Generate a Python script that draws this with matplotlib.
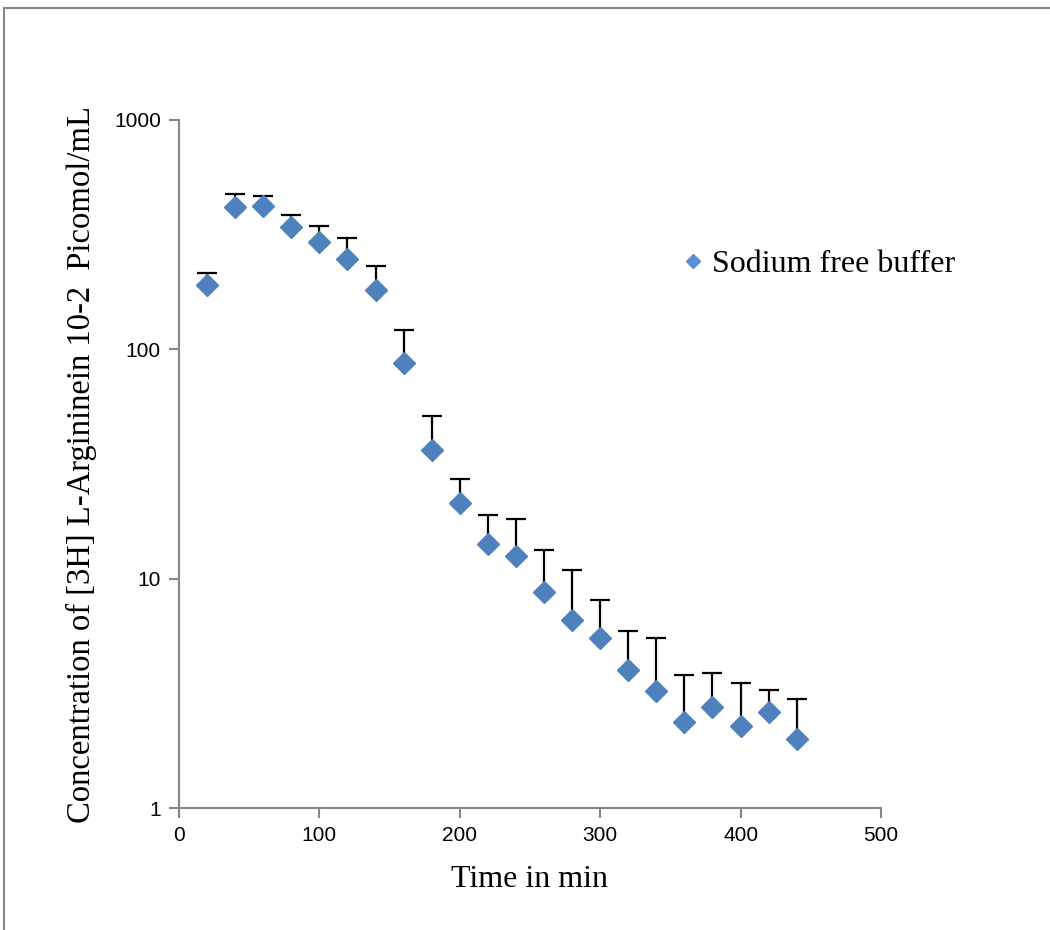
import matplotlib.pyplot as plt
from matplotlib.lines import Line2D

# time points (min) and measured concentration, with upper error
time_min = [20, 40, 60, 80, 100, 120, 140, 160, 180, 200, 220,
            240, 260, 280, 300, 320, 340, 360, 380, 400, 420, 440]
conc = [191, 418, 422, 341, 294, 248, 181, 87.2, 36.4, 21.4, 14.2,
        12.6, 8.75, 6.6, 5.51, 4.0, 3.24, 2.37, 2.76, 2.28, 2.62, 2.0]
conc_upper = [215, 476, 466, 385, 345, 306, 231, 121, 51.2, 27.2, 18.9,
              18.2, 13.3, 10.9, 8.07, 5.91, 5.51, 3.80, 3.88, 3.51, 3.27, 2.99]
err_up = [u - c for u, c in zip(conc_upper, conc)]
err_low = [0] * len(conc)

x_ticks = [0, 100, 200, 300, 400, 500]
y_ticks = [1, 10, 100, 1000]

serif = 'Liberation Serif'
grey = '#868686'
blue = '#4F81BD'

fig = plt.figure(figsize=(10.5, 9.3), dpi=100)
ax = fig.add_axes([0.1705, 0.131, 0.6685, 0.740])

ax.errorbar(time_min, conc, yerr=[err_low, err_up], fmt='none',
            ecolor='black', elinewidth=1.6, capsize=7, capthick=1.6, zorder=2)
ax.plot(time_min, conc, linestyle='none', marker='D', markersize=11,
        color=blue, label='Sodium free buffer', zorder=3)

ax.set_yscale('log')
ax.set_xlim(0, 500)
ax.set_ylim(1, 1000)
ax.set_xticks(x_ticks)
ax.set_xticklabels([str(t) for t in x_ticks])
ax.set_yticks(y_ticks)
ax.set_yticklabels([str(t) for t in y_ticks])
ax.minorticks_off()

for side in ['top', 'right']:
    ax.spines[side].set_visible(False)
for side in ['left', 'bottom']:
    ax.spines[side].set_color(grey)
    ax.spines[side].set_linewidth(1.5)
ax.tick_params(axis='both', direction='out', length=7, width=1.5, color=grey,
               labelsize=15, pad=6)
for lab in ax.get_xticklabels() + ax.get_yticklabels():
    lab.set_fontfamily('Liberation Sans')

ax.set_xlabel('Time in min', fontsize=23, family=serif, labelpad=14)
ax.set_ylabel('Concentration of [3H] L-Argininein 10-2  Picomol/mL',
              fontsize=23.5, family=serif, labelpad=12)

leg = ax.legend(loc='center left', bbox_to_anchor=(0.664, 0.79), frameon=False,
                prop={'family': serif, 'size': 23}, markerscale=0.65,
                handletextpad=0.0, handlelength=1.2)
leg.legend_handles[0].set_color('#5B8ED6')

# outer frame of the chart area
fig.add_artist(Line2D([0.0035, 0.0035], [0.0, 0.991], transform=fig.transFigure,
                      color=grey, linewidth=1.5))
fig.add_artist(Line2D([0.0035, 1.0], [0.991, 0.991], transform=fig.transFigure,
                      color=grey, linewidth=1.5))

fig.savefig('out.png', dpi=100)
